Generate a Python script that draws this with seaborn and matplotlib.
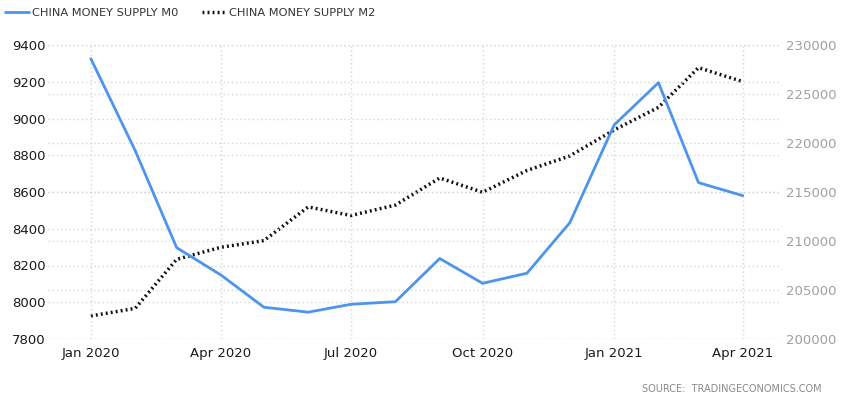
import matplotlib
matplotlib.use("Agg")
import matplotlib.pyplot as plt
import seaborn as sns
import pandas as pd
import numpy as np
from matplotlib.lines import Line2D

months = pd.date_range("2020-01-01", "2021-04-01", freq="MS")
m0 = [9325, 8825, 8297, 8148, 7973, 7946, 7989, 8003, 8238, 8103, 8158, 8433,
      8965, 9195, 8651, 8580]
m2 = [202350, 203130, 208130, 209360, 210040, 213480, 212600, 213670, 216430,
      214970, 217200, 218680, 221330, 223640, 227690, 226260]
left_ticks = [7800, 8000, 8200, 8400, 8600, 8800, 9000, 9200, 9400]
right_ticks = [200000, 205000, 210000, 215000, 220000, 225000, 230000]
xtick_dates = pd.to_datetime(["2020-01-01", "2020-04-01", "2020-07-01",
                              "2020-10-01", "2021-01-01", "2021-04-01"])
xtick_labels = ["Jan 2020", "Apr 2020", "Jul 2020", "Oct 2020", "Jan 2021", "Apr 2021"]
label_m0 = "CHINA MONEY SUPPLY M0"
label_m2 = "CHINA MONEY SUPPLY M2"

df = pd.DataFrame({"date": months, "m0": m0, "m2": m2})

sns.set_theme(style="white")
plt.rcParams["font.family"] = ["DejaVu Sans"]

BLUE = "#4d94ec"
GRID = "#d6d6d6"
DOTS = (0, (0.55, 0.9))

fig = plt.figure(figsize=(8.42, 3.98), dpi=100)
ax = fig.add_axes([48/842, 1-339/398, (780-48)/842, (339-45)/398])
ax2 = ax.twinx()

sns.lineplot(data=df, x="date", y="m0", ax=ax, color=BLUE, linewidth=2.0)
sns.lineplot(data=df, x="date", y="m2", ax=ax2, color="#111111", linewidth=2.5,
             linestyle=DOTS)

ax.set_zorder(ax2.get_zorder() + 1)
ax.patch.set_visible(False)

ax.set_xlim(pd.Timestamp("2019-12-02"), pd.Timestamp("2021-04-27"))
ax.set_ylim(7800, 9400)
ax2.set_ylim(200000, 230000)

ax.set_xticks(xtick_dates)
ax.set_xticklabels(xtick_labels)
ax.set_yticks(left_ticks)
ax.set_yticklabels([str(v) for v in left_ticks])
ax2.set_yticks(right_ticks)
ax2.set_yticklabels([str(v) for v in right_ticks])

for a in (ax, ax2):
    for s in a.spines.values():
        s.set_visible(False)
    a.set_xlabel("")
    a.set_ylabel("")

ax.tick_params(axis="y", length=0, pad=1.5, labelsize=9.5, labelcolor="#1a1a1a")
ax.tick_params(axis="x", length=0, pad=6, labelsize=9.5, labelcolor="#1a1a1a")
ax2.tick_params(axis="y", length=0, pad=4, labelsize=9.5, labelcolor="#a0a0a0")

ax.grid(True, axis="both", color=GRID, linestyle=(0, (1, 2)), linewidth=1.0)
ax2.grid(True, axis="y", color=GRID, linestyle=(0, (1, 2)), linewidth=1.0)
ax.set_axisbelow(True)
ax2.set_axisbelow(True)

handles = [Line2D([], [], color=BLUE, linewidth=2.0),
           Line2D([], [], color="#111111", linewidth=2.5, linestyle=DOTS)]
fig.legend(handles, [label_m0, label_m2], loc="upper left",
           bbox_to_anchor=(0.0, 0.992), ncol=2, frameon=False,
           fontsize=8.2, handlelength=2.1, handletextpad=0.3, columnspacing=2.0,
           borderaxespad=0.15, borderpad=0.3, labelcolor="#333333")

fig.text(822/842, 1-389/398, "SOURCE:  TRADINGECONOMICS.COM", ha="right", va="center",
         fontsize=7.0, color="#8a8a8a")

fig.savefig("out.png", dpi=100)
